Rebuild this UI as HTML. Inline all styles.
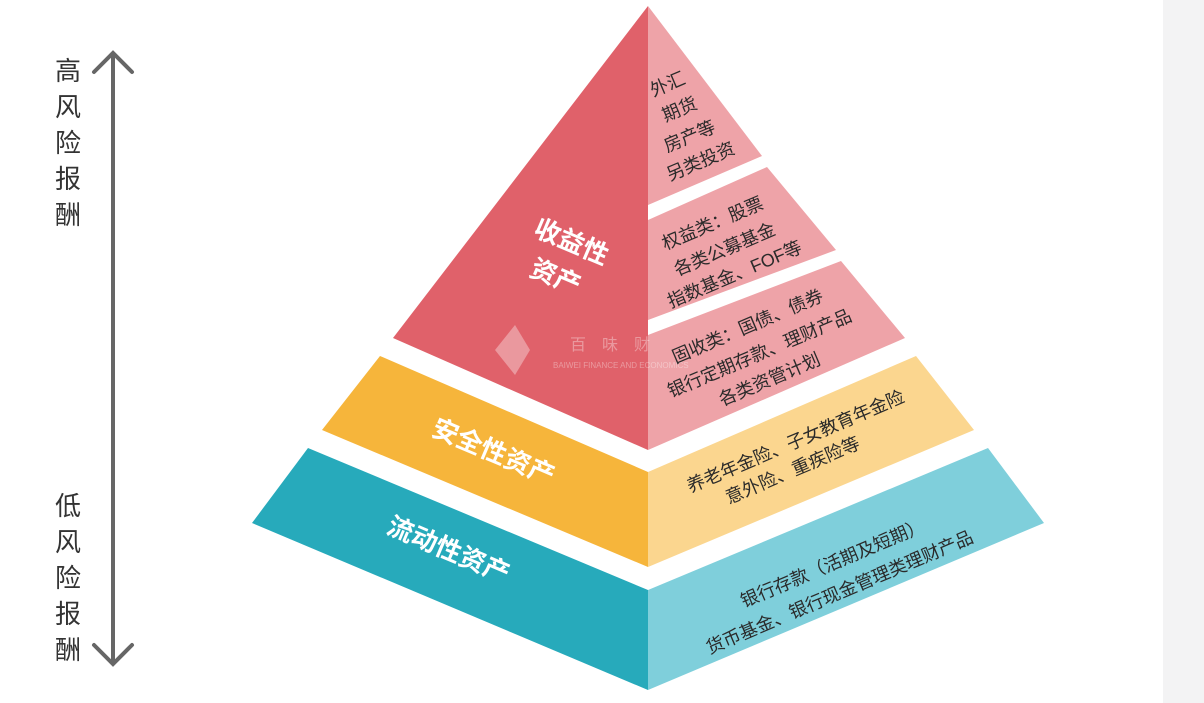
<!DOCTYPE html>
<html><head><meta charset="utf-8"><style>
html,body{margin:0;padding:0;background:#fff;}
svg{display:block;}
text{font-family:"Liberation Sans","Noto Sans CJK SC",sans-serif;}
</style></head><body>
<svg width="1204" height="703" viewBox="0 0 1204 703" xmlns="http://www.w3.org/2000/svg">
<rect x="1163" y="0" width="41" height="703" fill="#f3f3f4"/>
<line x1="113" y1="54" x2="113" y2="662" stroke="#666" stroke-width="4"/>
<polyline points="94,72 113,53 132,72" fill="none" stroke="#666" stroke-width="4" stroke-linecap="round"/>
<polyline points="94,645 113,664 132,645" fill="none" stroke="#666" stroke-width="4" stroke-linecap="round"/>
<g font-size="26" fill="#333" text-anchor="middle">
<text x="68" y="80">高</text><text x="68" y="116">风</text><text x="68" y="152">险</text><text x="68" y="188">报</text><text x="68" y="224">酬</text>
<text x="68" y="515">低</text><text x="68" y="551">风</text><text x="68" y="587">险</text><text x="68" y="623">报</text><text x="68" y="659">酬</text>
</g>
<polygon points="648,6 393,338 648,450" fill="#e0616a"/>
<polygon points="648,6 762,156 648,205" fill="#eea3a8"/>
<polygon points="648,220 767,167 836,250 648,320" fill="#eea3a8"/>
<polygon points="648,335 841,261 905,338 648,450" fill="#eea3a8"/>
<polygon points="380,356 648,472 648,567 322,430" fill="#f6b53b"/>
<polygon points="916,356 648,472 648,567 974,430" fill="#fbd68f"/>
<polygon points="308,448 648,590 648,690 252,523" fill="#27aabb"/>
<polygon points="988,448 648,590 648,690 1044,523" fill="#7fcfdb"/>
<g opacity="0.35">
<polygon points="515,325 495,350 515,375 530,350" fill="#fff"/>
<text x="570" y="350" font-size="16" fill="#fff">百　味　财</text>
<text x="553" y="368" font-size="8" fill="#fff">BAIWEI FINANCE AND ECONOMICS</text>
</g>
<g fill="#fff" font-size="26" font-weight="bold" text-anchor="middle">
<text transform="translate(568,250) rotate(23)">收益性</text>
<text transform="translate(552,285) rotate(23)">资产</text>
<text transform="translate(490,460) rotate(23)">安全性资产</text>
<text transform="translate(445,558) rotate(23)">流动性资产</text>
</g>
<g fill="#2a2a2a" font-size="18" text-anchor="middle">
<text transform="translate(670,90) rotate(-23)">外汇</text>
<text transform="translate(682,115) rotate(-23)">期货</text>
<text transform="translate(692,142) rotate(-23)">房产等</text>
<text transform="translate(703,167) rotate(-23)">另类投资</text>
<text transform="translate(715,229) rotate(-23)">权益类：股票</text>
<text transform="translate(727,255) rotate(-23)">各类公募基金</text>
<text transform="translate(737,280) rotate(-23)">指数基金、FOF等</text>
<text transform="translate(750,332) rotate(-23)">固收类：国债、债券</text>
<text transform="translate(762,359) rotate(-23)">银行定期存款、理财产品</text>
<text transform="translate(772,385) rotate(-23)">各类资管计划</text>
<text transform="translate(798,447) rotate(-23)">养老年金险、子女教育年金险</text>
<text transform="translate(795,476) rotate(-23)">意外险、重疾险等</text>
<text transform="translate(835,569) rotate(-23)">银行存款（活期及短期）</text>
<text transform="translate(842,598) rotate(-23)">货币基金、银行现金管理类理财产品</text>
</g>
</svg>
</body></html>
